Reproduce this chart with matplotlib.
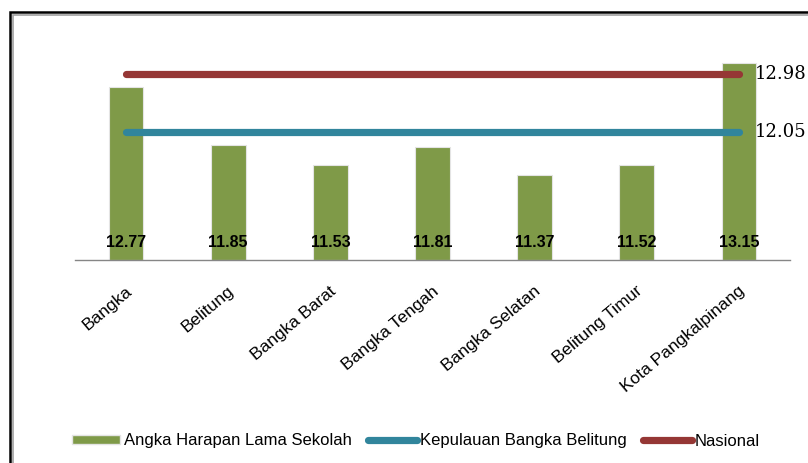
import matplotlib.pyplot as plt
import matplotlib.transforms as mtransforms
from matplotlib.patches import Rectangle, Patch
from matplotlib.lines import Line2D
import numpy as np

kabupaten = ['Bangka', 'Belitung', 'Bangka Barat', 'Bangka Tengah', 'Bangka Selatan',
             'Belitung Timur', 'Kota Pangkalpinang']
ahls = [12.77, 11.85, 11.53, 11.81, 11.37, 11.52, 13.15]
provinsi = 12.05
nasional = 12.98

c_bar = '#7F9A48'
c_prov = '#31859C'
c_nas = '#953735'

fig = plt.figure(figsize=(8.08, 4.63), dpi=100)
ax = fig.add_axes([0.0928, 0.4384, 0.8849, 0.4718])

x = np.arange(len(kabupaten))
ax.bar(x, [v - 10 for v in ahls], bottom=10, width=0.34, color=c_bar,
       edgecolor='#E4E4E4', linewidth=0.8, zorder=2)
ax.plot(x, [provinsi] * len(x), color=c_prov, lw=5.2, solid_capstyle='round', zorder=3)
ax.plot(x, [nasional] * len(x), color=c_nas, lw=5.2, solid_capstyle='round', zorder=3)

for i, v in enumerate(ahls):
    ax.annotate('%.2f' % v, (x[i], 10), xytext=(0, 18), textcoords='offset pixels',
                ha='center', va='center', fontsize=11.5, fontweight='bold',
                family='Liberation Sans', color='black', zorder=4)

for v in [nasional, provinsi]:
    ax.annotate('%.2f' % v, (x[-1], v), xytext=(16, 0), textcoords='offset pixels',
                ha='left', va='center', fontsize=13, family='DejaVu Serif',
                color='black', annotation_clip=False)

ax.set_xlim(-0.5, len(x) - 0.5)
ax.set_ylim(10, 13.5)
ax.set_yticks([])
for s in ['top', 'right', 'left']:
    ax.spines[s].set_visible(False)
ax.spines['bottom'].set_color('#868686')
ax.spines['bottom'].set_linewidth(1.0)
ax.set_xticks(x)
ax.set_xticklabels(kabupaten, rotation=40, ha='right', va='center',
                   rotation_mode='anchor', fontsize=12.5, family='Liberation Sans')
ax.tick_params(axis='x', length=0, pad=21)
shift = mtransforms.ScaledTranslation(4 / 100, 0, fig.dpi_scale_trans)
for lab in ax.get_xticklabels():
    lab.set_transform(lab.get_transform() + shift)

handles = [Patch(facecolor=c_bar, edgecolor='#E4E4E4'),
           Line2D([0], [0], color=c_prov, lw=5.2, solid_capstyle='round'),
           Line2D([0], [0], color=c_nas, lw=5.2, solid_capstyle='round')]
labels = ['Angka Harapan Lama Sekolah', 'Kepulauan Bangka Belitung', 'Nasional']
fig.legend(handles, labels, loc='center', bbox_to_anchor=(0.5 + 12 / 808, 1 - 441 / 463),
           ncol=3, frameon=False, prop={'family': 'Liberation Sans', 'size': 12},
           handlelength=2.9, handleheight=0.45, handletextpad=0.2, columnspacing=1.0)

# figure frame (left/top visible, right/bottom run off the picture)
fig.patches.append(Rectangle((12.5 / 808, -0.1), 1.2, 1.1 - 14.5 / 463 + 0.0,
                             transform=fig.transFigure, fill=False,
                             edgecolor='#A0A0A0', lw=1.2))
fig.patches.append(Rectangle((10 / 808, -0.1), 1.2, 1.1 - 12.5 / 463,
                             transform=fig.transFigure, fill=False,
                             edgecolor='black', lw=1.8))

fig.savefig('out.png', dpi=100)
